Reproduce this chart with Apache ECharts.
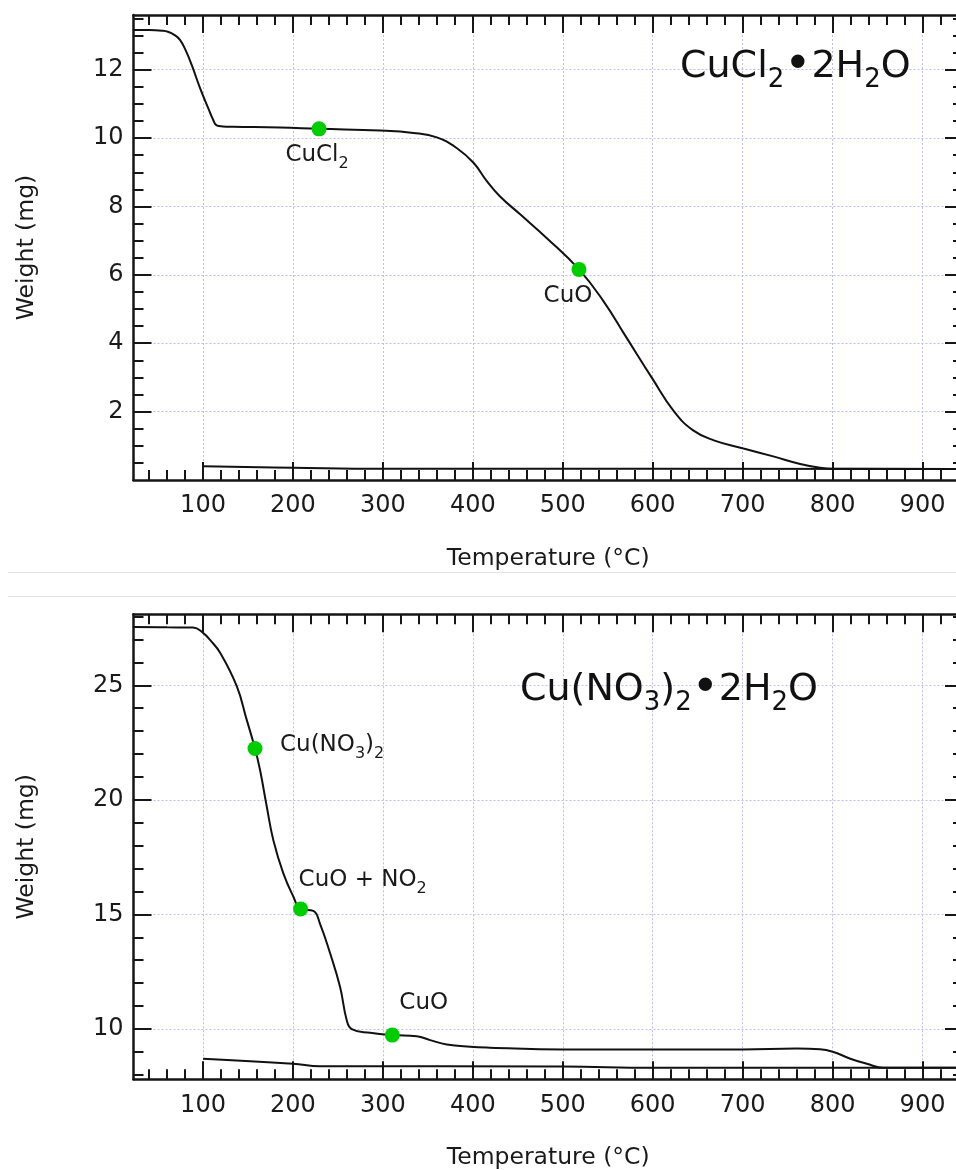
<!DOCTYPE html>
<html>
<head>
<meta charset="utf-8">
<script src="https://cdn.jsdelivr.net/npm/echarts@6/dist/echarts.min.js"></script>
<style>
  html, body { margin: 0; padding: 0; background: #ffffff; }
  #chart { width: 956px; height: 1170px; }
</style>
</head>
<body>
<div id="chart"></div>
<script>
// Thermogravimetric analysis of two copper salt hydrates: weight vs temperature.

// ---- CuCl2·2H2O ----
const cuclTemp   = [22.7, 40, 55, 61, 68, 74.4, 81, 87.4, 96.7, 105.9, 111, 115.2, 122, 133.7, 185.6, 229, 297, 334, 360, 382, 401, 415.6, 430, 452.6, 482, 518, 545, 570, 600, 623, 645, 668, 701, 734, 764, 786, 800, 945];
const cuclWeight = [13.16, 13.16, 13.14, 13.11, 13.02, 12.87, 12.55, 12.14, 11.46, 10.87, 10.55, 10.37, 10.34, 10.33, 10.31, 10.27, 10.22, 10.15, 10.02, 9.71, 9.27, 8.74, 8.30, 7.77, 7.08, 6.16, 5.24, 4.20, 2.95, 2.03, 1.45, 1.16, 0.92, 0.69, 0.47, 0.36, 0.33, 0.32];
const cuclPanTemp   = [100, 200, 300, 500, 945];
const cuclPanWeight = [0.40, 0.36, 0.33, 0.33, 0.32];
const cuclPointTemp   = [229, 518];
const cuclPointWeight = [10.27, 6.16];
const cuclPointLabel  = ['{m|CuCl}{s|2}', '{m|CuO}'];

// ---- Cu(NO3)2·2H2O ----
const nitrTemp   = [22.7, 60, 89, 100.3, 107.8, 119, 137.5, 148.6, 157.8, 163.4, 170.9, 178.2, 189.3, 200.5, 208.5, 222.7, 230, 241.3, 252.4, 259.8, 265.4, 285.8, 310.5, 337.7, 352.5, 371, 397, 419, 500, 700, 760, 786, 801, 819.7, 838, 856.7, 945];
const nitrWeight = [27.55, 27.53, 27.52, 27.28, 26.98, 26.42, 24.96, 23.49, 22.24, 21.3, 19.7, 18.24, 16.79, 15.77, 15.24, 15.15, 14.6, 13.3, 11.83, 10.38, 9.99, 9.83, 9.73, 9.68, 9.51, 9.32, 9.22, 9.18, 9.10, 9.10, 9.14, 9.11, 8.99, 8.70, 8.48, 8.30, 8.30];
const nitrPanTemp   = [100, 200, 230, 500, 600, 945];
const nitrPanWeight = [8.70, 8.48, 8.37, 8.36, 8.30, 8.30];
const nitrPointTemp   = [157.8, 208.5, 310.5];
const nitrPointWeight = [22.24, 15.24, 9.73];
const nitrPointLabel  = ['{m|Cu(NO}{s|3}{m|)}{s|2}', '{m|CuO + NO}{s|2}', '{m|CuO}'];

// ---- axes ----
const tempRange = [22.7, 945];
const tempTicks = [100, 200, 300, 400, 500, 600, 700, 800, 900];
const cuclRange = [0, 13.6];
const cuclTicks = [2, 4, 6, 8, 10, 12];
const nitrRange = [7.8, 28.1];
const nitrTicks = [10, 15, 20, 25];

function minorTicks(from, to, step, majors) {
  const out = [];
  for (let v = from; v <= to + 1e-9; v += step) {
    const r = Math.round(v * 100) / 100;
    if (majors.indexOf(r) < 0) out.push(r);
  }
  return out;
}
const tempMinor = minorTicks(40, 940, 20, tempTicks);
const cuclMinor = minorTicks(0.5, 13.5, 0.5, cuclTicks.concat([0]));
const nitrMinor = minorTicks(8, 28, 1, nitrTicks);

const FONT = 'DejaVu Sans';
const INK = '#161616';
const TEXT = '#1a1a1a';
const AXIS_W = 2.5;
const GRID_LINE = { show: true, lineStyle: { color: '#bcbcf5', width: 1, type: [2, 2] } };

function zip(xs, ys) { return xs.map((x, i) => [x, ys[i]]); }

function xAxes(g) {
  const common = { gridIndex: g, type: 'value', min: tempRange[0], max: tempRange[1] };
  const majorTick = { show: true, inside: true, length: 18, customValues: tempTicks, lineStyle: { color: INK, width: 2 } };
  const minorTick = { show: true, inside: true, length: 10, customValues: tempMinor, lineStyle: { color: INK, width: 2 } };
  return [
    Object.assign({}, common, {
      position: 'bottom',
      axisLine: { show: true, onZero: false, lineStyle: { color: INK, width: AXIS_W } },
      axisTick: majorTick,
      axisLabel: { show: true, customValues: tempTicks, margin: 14, fontSize: 24, color: TEXT, fontFamily: FONT },
      splitLine: GRID_LINE,
      name: 'Temperature (°C)', nameLocation: 'middle', nameGap: 67,
      nameTextStyle: { fontSize: 23.5, color: TEXT, fontFamily: FONT }
    }),
    Object.assign({}, common, {
      position: 'bottom', axisLine: { show: false, onZero: false }, axisTick: minorTick,
      axisLabel: { show: false }, splitLine: { show: false }
    }),
    Object.assign({}, common, {
      position: 'top', axisLine: { show: true, onZero: false, lineStyle: { color: INK, width: AXIS_W } },
      axisTick: majorTick, axisLabel: { show: false }, splitLine: { show: false }
    }),
    Object.assign({}, common, {
      position: 'top', axisLine: { show: false, onZero: false }, axisTick: minorTick,
      axisLabel: { show: false }, splitLine: { show: false }
    })
  ];
}

function yAxes(g, range, ticks, minor) {
  const common = { gridIndex: g, type: 'value', min: range[0], max: range[1] };
  const majorTick = { show: true, inside: true, length: 18, customValues: ticks, lineStyle: { color: INK, width: 2 } };
  const minorTick = { show: true, inside: true, length: 10, customValues: minor, lineStyle: { color: INK, width: 2 } };
  return [
    Object.assign({}, common, {
      position: 'left',
      axisLine: { show: true, onZero: false, lineStyle: { color: INK, width: AXIS_W } },
      axisTick: majorTick,
      axisLabel: { show: true, customValues: ticks, margin: 10, fontSize: 24, color: TEXT, fontFamily: FONT },
      splitLine: GRID_LINE,
      name: 'Weight (mg)', nameLocation: 'middle', nameGap: 95,
      nameTextStyle: { fontSize: 23.5, color: TEXT, fontFamily: FONT }
    }),
    Object.assign({}, common, {
      position: 'left', axisLine: { show: false, onZero: false }, axisTick: minorTick,
      axisLabel: { show: false }, splitLine: { show: false }
    }),
    Object.assign({}, common, {
      position: 'right', axisLine: { show: true, onZero: false, lineStyle: { color: INK, width: AXIS_W } },
      axisTick: majorTick, axisLabel: { show: false }, splitLine: { show: false }
    }),
    Object.assign({}, common, {
      position: 'right', axisLine: { show: false, onZero: false }, axisTick: minorTick,
      axisLabel: { show: false }, splitLine: { show: false }
    })
  ];
}

const labelRich = {
  m: { fontSize: 23, lineHeight: 28, color: TEXT, fontFamily: FONT },
  s: { fontSize: 16, height: 10, lineHeight: 10, verticalAlign: 'bottom', color: TEXT, fontFamily: FONT }
};
const titleRich = {
  t:  { fontSize: 38, lineHeight: 46, color: '#111111', fontFamily: FONT, fontWeight: 'normal' },
  ts: { fontSize: 26, height: 20, lineHeight: 20, verticalAlign: 'bottom', color: '#111111', fontFamily: FONT, fontWeight: 'normal' },
  tb: { fontSize: 46, lineHeight: 46, color: '#111111', fontFamily: FONT, fontWeight: 'normal' }
};

// label placement per marker: [align, dx, dy]
const cuclLabelPlace = [['center', -2, 26], ['center', -11, 27]];
const nitrLabelPlace = [['left', 25, -4], ['left', -2, -29], ['left', 7, -32]];

function points(ts, ws, labels, place) {
  return ts.map((t, i) => ({
    value: [t, ws[i]],
    label: {
      show: true, position: 'inside', formatter: labels[i], opacity: 1,
      align: place[i][0], verticalAlign: 'middle',
      offset: [place[i][1], place[i][2]], rich: labelRich
    }
  }));
}

function curve(xi, yi, data) {
  return {
    type: 'line', xAxisIndex: xi, yAxisIndex: yi, data: data,
    showSymbol: false, smooth: 0.45,
    lineStyle: { color: '#111111', width: 2 }, silent: true, z: 3
  };
}

function markers(xi, yi, data) {
  return {
    type: 'scatter', xAxisIndex: xi, yAxisIndex: yi, data: data,
    symbol: 'circle', symbolSize: 15,
    itemStyle: { color: '#00cc00', opacity: 1 }, silent: true, z: 5
  };
}

const option = {
  animation: false,
  backgroundColor: '#ffffff',
  textStyle: { fontFamily: FONT },
  grid: [
    { left: 133.5, top: 15, width: 829.5, height: 465, outerBoundsMode: 'none' },
    { left: 133.5, top: 614.3, width: 829.5, height: 465, outerBoundsMode: 'none' }
  ],
  title: [
    { text: '{t|CuCl}{ts|2}{tb|•}{t|2H}{ts|2}{t|O}', left: 680, top: 44.5, padding: 0,
      textStyle: { fontWeight: 'normal', fontFamily: FONT, rich: titleRich } },
    { text: '{t|Cu(NO}{ts|3}{t|)}{ts|2}{tb|•}{t|2H}{ts|2}{t|O}', left: 520, top: 667, padding: 0,
      textStyle: { fontWeight: 'normal', fontFamily: FONT, rich: titleRich } }
  ],
  xAxis: xAxes(0).concat(xAxes(1)),
  yAxis: yAxes(0, cuclRange, cuclTicks, cuclMinor).concat(yAxes(1, nitrRange, nitrTicks, nitrMinor)),
  graphic: [
    { type: 'line', shape: { x1: 8, y1: 572.5, x2: 956, y2: 572.5 }, style: { stroke: '#e4e4e4', lineWidth: 1 }, silent: true },
    { type: 'line', shape: { x1: 8, y1: 596.5, x2: 956, y2: 596.5 }, style: { stroke: '#e4e4e4', lineWidth: 1 }, silent: true }
  ],
  series: [
    curve(0, 0, zip(cuclTemp, cuclWeight)),
    curve(0, 0, zip(cuclPanTemp, cuclPanWeight)),
    markers(0, 0, points(cuclPointTemp, cuclPointWeight, cuclPointLabel, cuclLabelPlace)),
    curve(4, 4, zip(nitrTemp, nitrWeight)),
    curve(4, 4, zip(nitrPanTemp, nitrPanWeight)),
    markers(4, 4, points(nitrPointTemp, nitrPointWeight, nitrPointLabel, nitrLabelPlace))
  ]
};

const chart = echarts.init(document.getElementById('chart'), null, { renderer: 'canvas' });
chart.setOption(option);
</script>
</body>
</html>
